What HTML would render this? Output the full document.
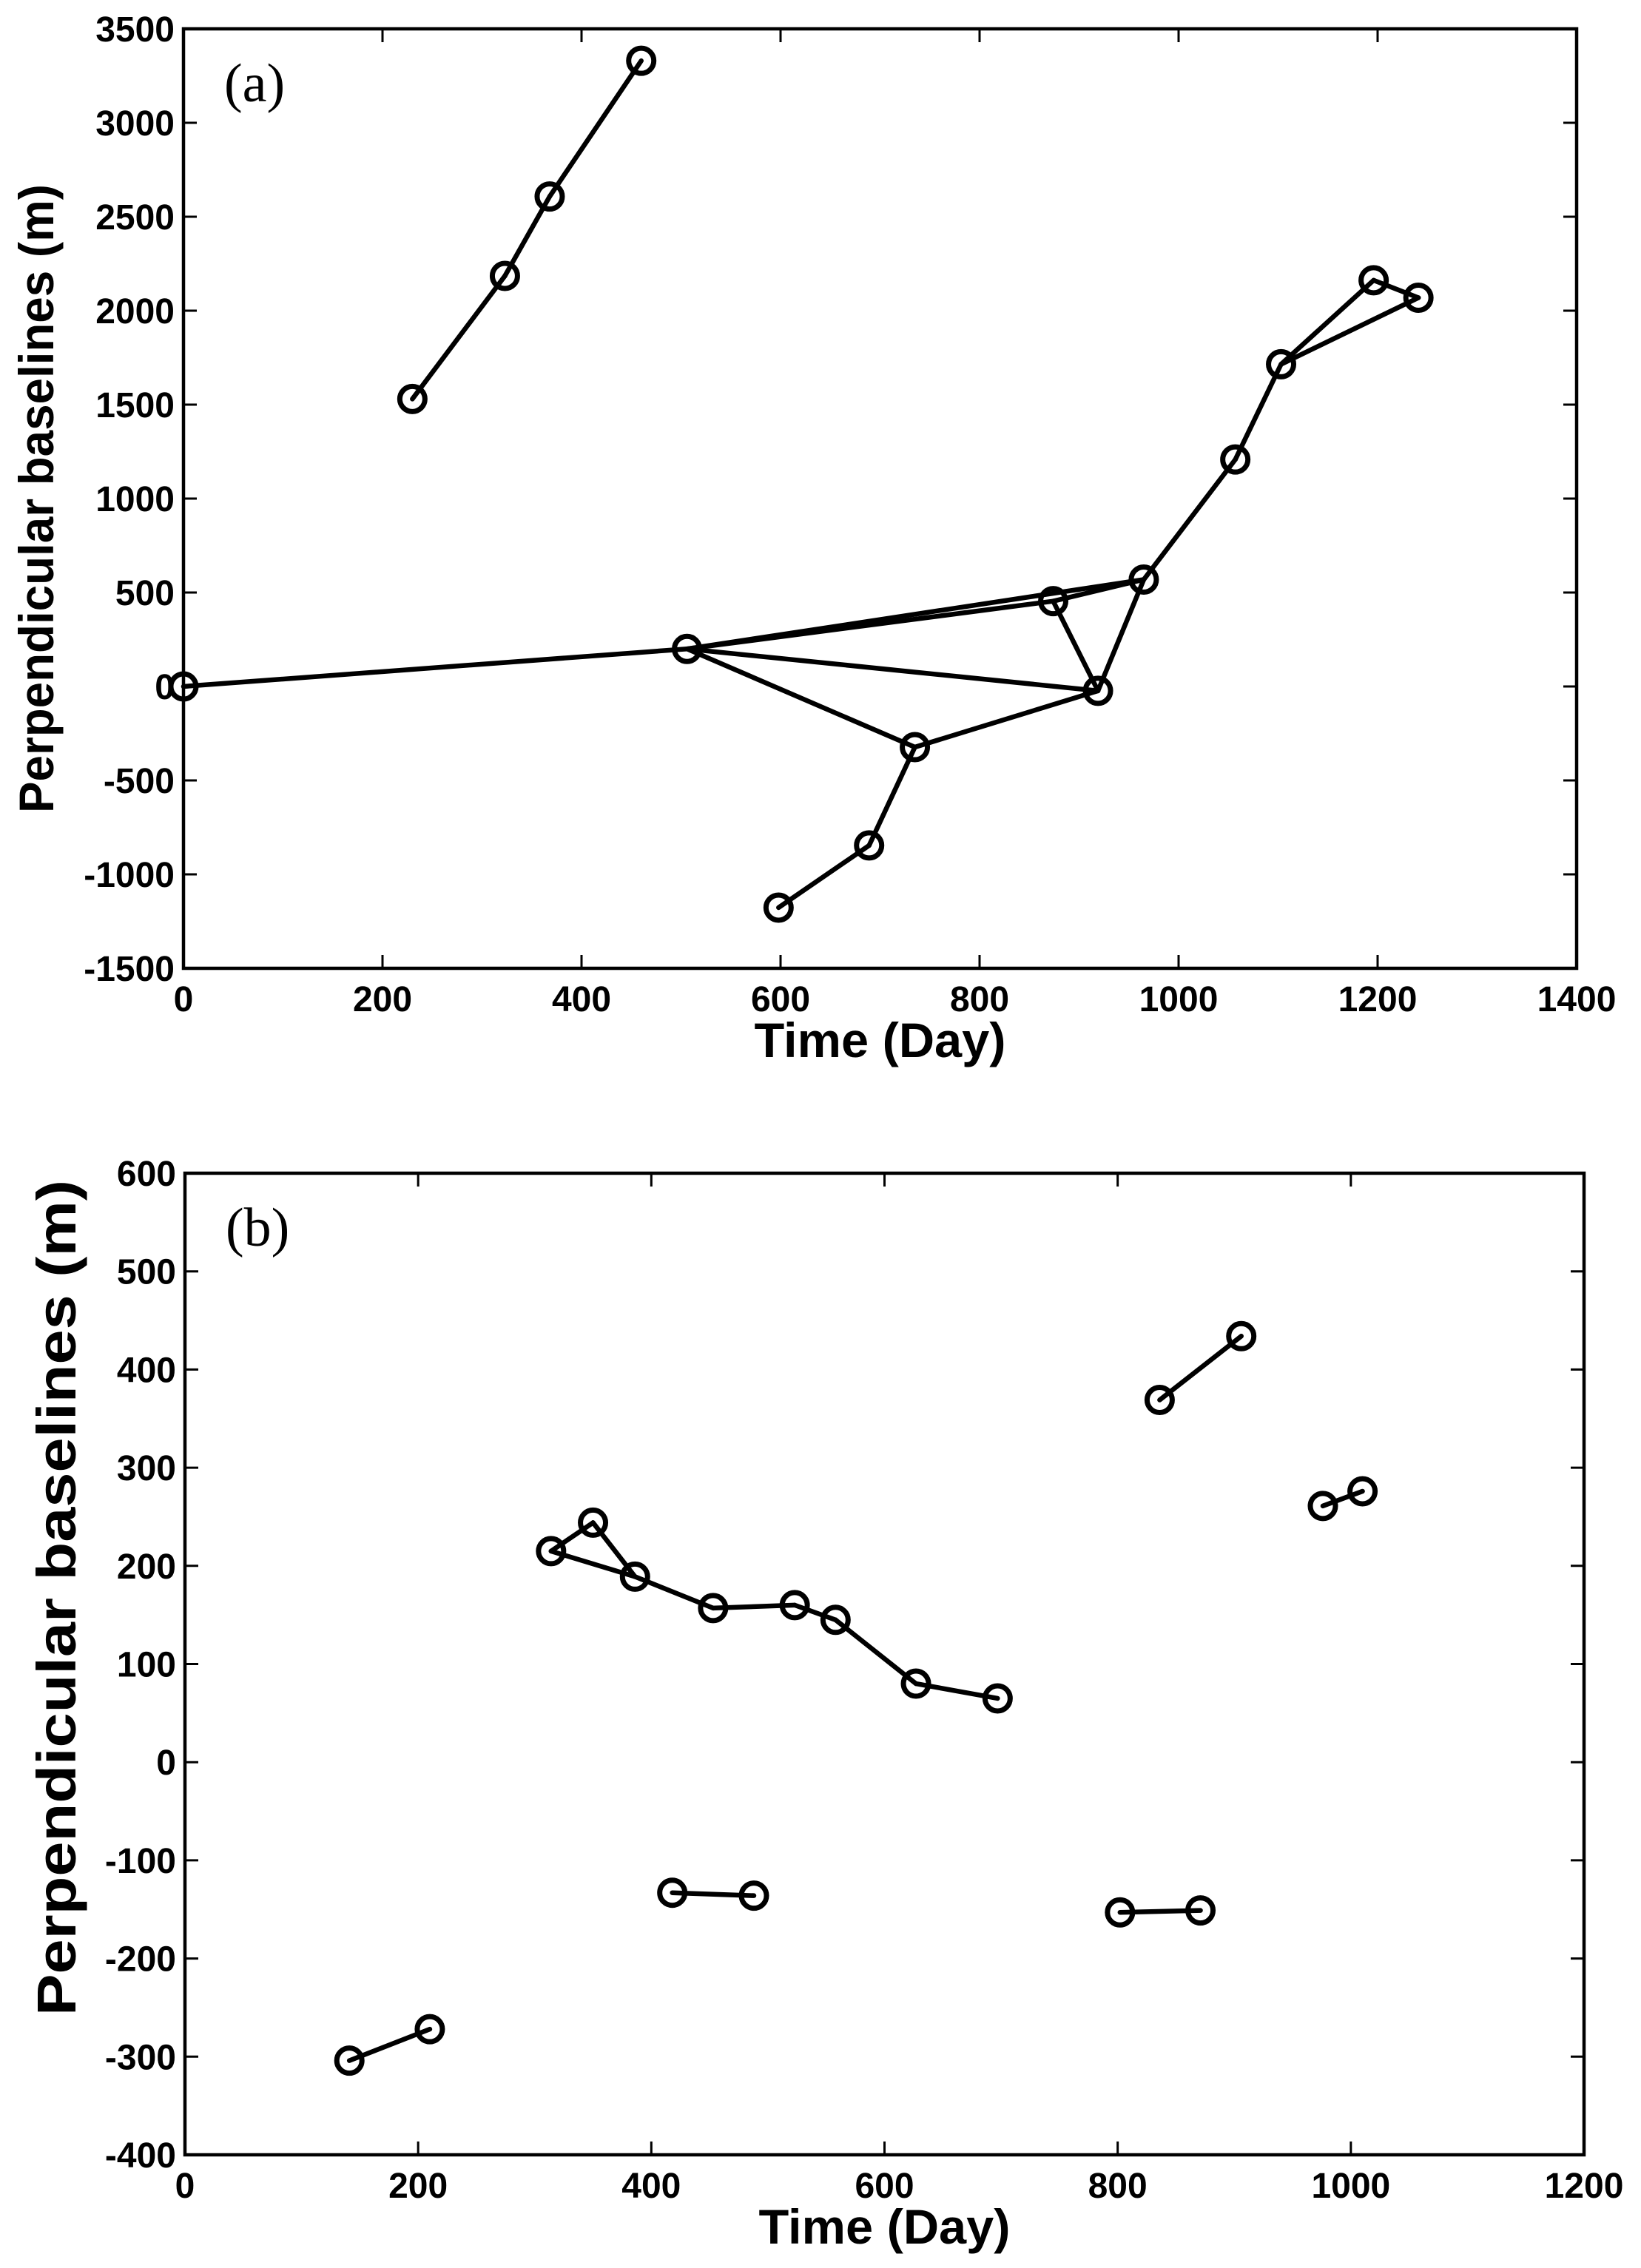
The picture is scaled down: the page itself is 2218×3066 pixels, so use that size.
<!DOCTYPE html>
<html><head><meta charset="utf-8"><style>
html,body{margin:0;padding:0;background:#fff;}
svg{display:block;}
text{font-family:"Liberation Sans",Arial,sans-serif;font-weight:bold;fill:#000;}
.pl{font-family:"Liberation Serif","Times New Roman",serif;font-weight:normal;}
</style></head><body>
<svg id="fig" width="2218" height="3066" viewBox="0 0 2218 3066" xmlns="http://www.w3.org/2000/svg"></svg>
<script>
// ---- Panel (a) data ----
const aTimes = [0, 506, 230, 323, 368, 460, 598, 689, 735, 874, 919, 965, 1057, 1103, 1196, 1241];
const aBaselines = [0, 200, 1530, 2185, 2608, 3330, -1177, -846, -323, 454, -23, 569, 1208, 1715, 2162, 2069];
const aEdgeFrom = [0, 1, 1, 1, 1, 8, 8, 7, 9, 10, 9, 11, 12, 13, 14, 13, 2, 3, 4];
const aEdgeTo   = [1, 9, 11, 10, 8, 10, 7, 6, 10, 11, 11, 12, 13, 14, 15, 15, 3, 4, 5];
const aXTicks = [0, 200, 400, 600, 800, 1000, 1200, 1400];
const aYTicks = [-1500, -1000, -500, 0, 500, 1000, 1500, 2000, 2500, 3000, 3500];
// ---- Panel (b) data ----
const bTimes = [141, 210, 314, 350, 386, 453, 523, 558, 627, 697, 418, 488, 836, 906, 802, 871, 976, 1010];
const bBaselines = [-304, -272, 215, 244, 189, 157, 160, 145, 80, 65, -133, -136, 369, 434, -153, -151, 261, 276];
const bEdgeFrom = [0, 2, 3, 2, 4, 5, 6, 7, 8, 10, 12, 14, 16];
const bEdgeTo   = [1, 3, 4, 4, 5, 6, 7, 8, 9, 11, 13, 15, 17];
const bXTicks = [0, 200, 400, 600, 800, 1000, 1200];
const bYTicks = [-400, -300, -200, -100, 0, 100, 200, 300, 400, 500, 600];

const NS = "http://www.w3.org/2000/svg";
const svg = document.getElementById('fig');
function mk(tag, attrs, parent){
  const e = document.createElementNS(NS, tag);
  for (const k in attrs) e.setAttribute(k, attrs[k]);
  (parent||svg).appendChild(e);
  return e;
}
function panel(cfg){
  const g = mk('g', {});
  
  
  const X = v => cfg.x0 + (v - cfg.xmin) / (cfg.xmax - cfg.xmin) * (cfg.x1 - cfg.x0);
  const Y = v => cfg.y1 - (v - cfg.ymin) / (cfg.ymax - cfg.ymin) * (cfg.y1 - cfg.y0);
  for (let i = 0; i < cfg.ef.length; i++){
    const a = cfg.ef[i], b = cfg.et[i];
    const l = mk('line', {x1:X(cfg.xs[a]), y1:Y(cfg.ys[a]), x2:X(cfg.xs[b]), y2:Y(cfg.ys[b]), stroke:'#000','stroke-width':6.5,'stroke-linecap':'round'}, g);
    
    
  }
  for (let i = 0; i < cfg.xs.length; i++){
    const c = mk('circle', {cx:X(cfg.xs[i]), cy:Y(cfg.ys[i]), r:17, fill:'none', stroke:'#000','stroke-width':7}, g);
    
    
  }
  const fr = mk('rect', {x:cfg.x0, y:cfg.y0, width:cfg.x1-cfg.x0, height:cfg.y1-cfg.y0, fill:'none', stroke:'#000','stroke-width':4.5}, g);
  
  
  cfg.xt.forEach(v => {
    const x = X(v);
    mk('line', {x1:x, y1:cfg.y1, x2:x, y2:cfg.y1-18, stroke:'#000','stroke-width':3}, g);
    mk('line', {x1:x, y1:cfg.y0, x2:x, y2:cfg.y0+18, stroke:'#000','stroke-width':3}, g);
    const t = mk('text', {x:x, y:cfg.y1+58, 'font-size':48, 'text-anchor':'middle'}, g);
    t.textContent = v;
    
    
  });
  cfg.yt.forEach(v => {
    const y = Y(v);
    mk('line', {x1:cfg.x0, y1:y, x2:cfg.x0+18, y2:y, stroke:'#000','stroke-width':3}, g);
    mk('line', {x1:cfg.x1, y1:y, x2:cfg.x1-18, y2:y, stroke:'#000','stroke-width':3}, g);
    const t = mk('text', {x:cfg.x0-12, y:y+17, 'font-size':48, 'text-anchor':'end'}, g);
    t.textContent = v;
    
    
  });
  const xt = mk('text', {x:(cfg.x0+cfg.x1)/2, y:cfg.y1+120, 'font-size':66, 'text-anchor':'middle', textLength:340, lengthAdjust:'spacingAndGlyphs'}, g);
  xt.textContent = 'Time (Day)';
  
  
  const yt = mk('text', {x:0, y:0, 'font-size':cfg.ytf, 'text-anchor':'middle', textLength:cfg.ytl, lengthAdjust:'spacingAndGlyphs', transform:'translate('+cfg.ytx+','+cfg.yty+') rotate(-90)'}, g);
  yt.textContent = 'Perpendicular baselines (m)';
  
  
  const pl = mk('text', {x:cfg.x0+55, y:cfg.y0+98, 'font-size':74, class:'pl'}, g);
  pl.textContent = cfg.label;
  
  
}
panel({name:'panel-a', x0:248, x1:2131, y0:39, y1:1309, xmin:0, xmax:1400, ymin:-1500, ymax:3500,
  xs:aTimes, ys:aBaselines, ef:aEdgeFrom, et:aEdgeTo, xt:aXTicks, yt:aYTicks, ytx:72, yty:674, ytf:66, ytl:850, label:'(a)'});
panel({name:'panel-b', x0:250, x1:2141, y0:1586, y1:2913, xmin:0, xmax:1200, ymin:-400, ymax:600,
  xs:bTimes, ys:bBaselines, ef:bEdgeFrom, et:bEdgeTo, xt:bXTicks, yt:bYTicks, ytx:102, yty:2160, ytf:74, ytl:1130, label:'(b)'});
</script>
</body></html>
